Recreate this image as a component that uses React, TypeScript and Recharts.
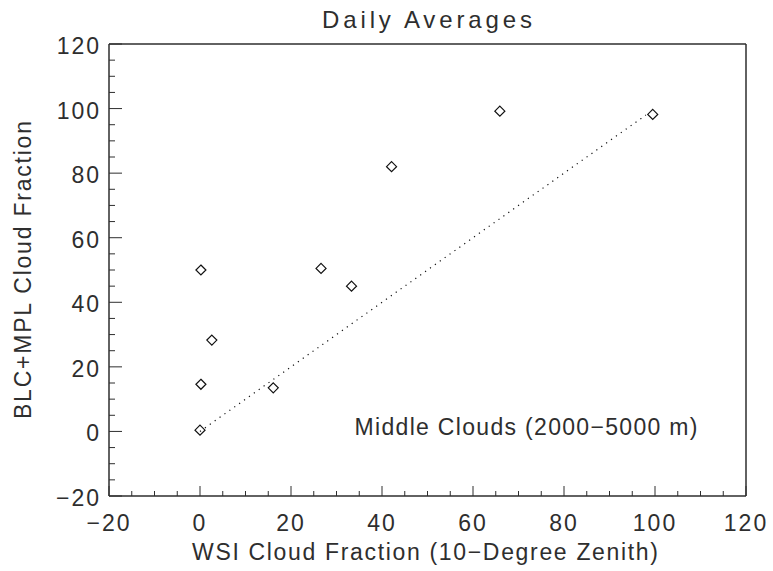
import React from 'react';
import { ScatterChart, Scatter, XAxis, YAxis, ReferenceLine } from 'recharts';

// WSI (x) vs BLC+MPL (y) daily mean cloud fraction, middle clouds
const wsiFraction = [0, 0.2, 0.2, 2.6, 16.1, 26.6, 33.3, 42.1, 65.9, 99.5];
const blcMplFraction = [0.4, 14.6, 50.0, 28.3, 13.5, 50.5, 45.0, 82.0, 99.2, 98.2];

// 1:1 reference line ends
const oneToOne = [0, 98];

const axisDomain = [-20, 120];
const axisTicks = [-20, -15, -10, -5, 0, 5, 10, 15, 20, 25, 30, 35, 40, 45, 50, 55, 60, 65, 70, 75, 80, 85, 90, 95, 100, 105, 110, 115, 120];

const points = wsiFraction.map((x, i) => ({ x, y: blcMplFraction[i] }));

const FONT = '"Liberation Sans", Arial, sans-serif';
const INK = '#2e2e2e';

const fmt = (v: number) => (v < 0 ? '\u2212' + Math.abs(v) : String(v));
const isMajor = (v: number) => v % 20 === 0;

const BottomTick = (props: any) => {
  const { x, y, payload } = props;
  const major = isMajor(payload.value);
  return (
    <g>
      <line x1={x} x2={x} y1={y} y2={y - (major ? 10 : 5)} stroke={INK} />
      {major && (
        <text x={x} y={y + 35} textAnchor="middle" fontFamily={FONT} fontSize={23} letterSpacing={2} fill={INK}>
          {fmt(payload.value)}
        </text>
      )}
    </g>
  );
};

const TopTick = (props: any) => {
  const { x, y, payload } = props;
  const major = isMajor(payload.value);
  return <line x1={x} x2={x} y1={y} y2={y + (major ? 10 : 5)} stroke={INK} />;
};

const LeftTick = (props: any) => {
  const { x, y, payload } = props;
  const major = isMajor(payload.value);
  return (
    <g>
      <line x1={x} x2={x + (major ? 13 : 6)} y1={y} y2={y} stroke={INK} />
      {major && (
        <text x={x - 8} y={y + 10} textAnchor="end" fontFamily={FONT} fontSize={23} letterSpacing={2} fill={INK}>
          {fmt(payload.value)}
        </text>
      )}
    </g>
  );
};

const RightTick = (props: any) => {
  const { x, y, payload } = props;
  const major = isMajor(payload.value);
  return <line x1={x} x2={x - (major ? 13 : 6)} y1={y} y2={y} stroke={INK} />;
};

const Diamond = (props: any) => {
  const { cx, cy } = props;
  const r = 5;
  return (
    <path
      d={`M${cx},${cy - r}L${cx + r},${cy}L${cx},${cy + r}L${cx - r},${cy}Z`}
      fill="none"
      stroke="#111"
      strokeWidth={1.2}
    />
  );
};

const axisLine = { stroke: INK, strokeWidth: 1.5 };

export default function App() {
  return (
    <div style={{ position: 'absolute', left: 0, top: 0, background: '#fff' }}>
      <ScatterChart width={773} height={571} margin={{ top: 43, right: 26, bottom: 74, left: 108 }}>
        <XAxis
          xAxisId="bottom"
          type="number"
          dataKey="x"
          domain={axisDomain}
          ticks={axisTicks}
          interval={0}
          height={1}
          tickSize={0}
          tickMargin={0}
          axisLine={axisLine}
          tick={<BottomTick />}
        />
        <XAxis
          xAxisId="top"
          orientation="top"
          type="number"
          dataKey="x"
          domain={axisDomain}
          ticks={axisTicks}
          interval={0}
          height={1}
          tickSize={0}
          tickMargin={0}
          axisLine={axisLine}
          tick={<TopTick />}
        />
        <YAxis
          yAxisId="left"
          type="number"
          dataKey="y"
          domain={axisDomain}
          ticks={axisTicks}
          interval={0}
          width={1}
          tickSize={0}
          tickMargin={0}
          axisLine={axisLine}
          tick={<LeftTick />}
        />
        <YAxis
          yAxisId="right"
          orientation="right"
          type="number"
          dataKey="y"
          domain={axisDomain}
          ticks={axisTicks}
          interval={0}
          width={1}
          tickSize={0}
          tickMargin={0}
          axisLine={axisLine}
          tick={<RightTick />}
        />
        <ReferenceLine
          xAxisId="bottom"
          yAxisId="left"
          segment={[
            { x: oneToOne[0], y: oneToOne[0] },
            { x: oneToOne[1], y: oneToOne[1] },
          ]}
          stroke="#111"
          strokeWidth={1.2}
          strokeDasharray="1.2 4.8"
        />
        <Scatter
          xAxisId="bottom"
          yAxisId="left"
          data={points}
          shape={<Diamond />}
          isAnimationActive={false}
        />
        <text x={427} y={28} textAnchor="middle" fontFamily={FONT} fontSize={24} fill={INK} textLength={210} lengthAdjust="spacing">
          Daily Averages
        </text>
        <text x={526} y={435} textAnchor="middle" fontFamily={FONT} fontSize={23} fill={INK} textLength={343} lengthAdjust="spacing">
          Middle Clouds (2000{'\u2212'}5000 m)
        </text>
        <text x={425} y={560} textAnchor="middle" fontFamily={FONT} fontSize={23} fill={INK} textLength={466} lengthAdjust="spacing">
          WSI Cloud Fraction (10{'\u2212'}Degree Zenith)
        </text>
        <text
          x={31}
          y={270}
          textAnchor="middle"
          fontFamily={FONT}
          fontSize={23}
          fill={INK}
          textLength={298}
          lengthAdjust="spacing"
          transform="rotate(-90 31 270)"
        >
          BLC+MPL Cloud Fraction
        </text>
      </ScatterChart>
    </div>
  );
}
